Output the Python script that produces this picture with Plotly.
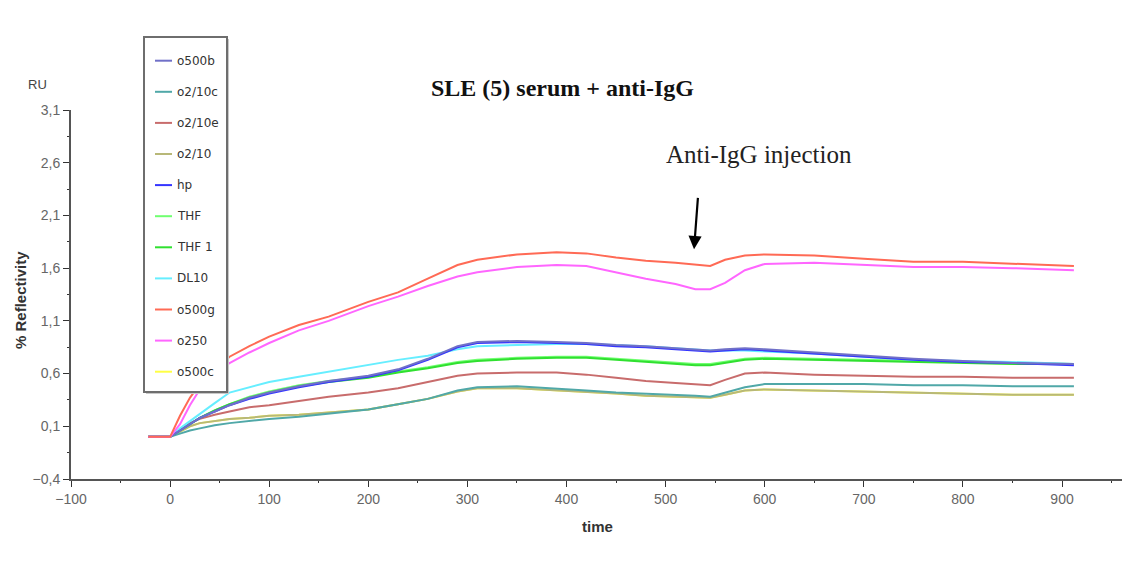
import plotly.graph_objects as go

# ---------------- data ----------------
time = [-22, 0, 10, 20, 30, 45, 60, 80, 100, 130, 160, 200, 230, 260, 290, 310,
        350, 390, 420, 450, 480, 510, 530, 545, 560, 580, 600, 650, 700, 750,
        800, 850, 912]

o500b = [0.0, 0.0, 0.06, 0.12, 0.18, 0.24, 0.30, 0.37, 0.42, 0.48, 0.53, 0.58, 0.64,
         0.74, 0.86, 0.90, 0.91, 0.90, 0.89, 0.87, 0.86, 0.84, 0.83, 0.82, 0.83,
         0.84, 0.83, 0.80, 0.77, 0.74, 0.72, 0.70, 0.69]
o2_10c = [0.0, 0.0, 0.03, 0.06, 0.08, 0.11, 0.13, 0.15, 0.17, 0.19, 0.22, 0.26, 0.31,
          0.36, 0.44, 0.47, 0.48, 0.46, 0.44, 0.42, 0.41, 0.40, 0.39, 0.38, 0.42,
          0.47, 0.50, 0.50, 0.50, 0.49, 0.49, 0.48, 0.48]
o2_10e = [0.0, 0.0, 0.07, 0.13, 0.17, 0.21, 0.24, 0.28, 0.30, 0.34, 0.38, 0.42, 0.46,
          0.52, 0.58, 0.60, 0.61, 0.61, 0.59, 0.56, 0.53, 0.51, 0.50, 0.49, 0.54,
          0.60, 0.61, 0.59, 0.58, 0.57, 0.57, 0.56, 0.56]
o2_10 = [0.0, 0.0, 0.05, 0.10, 0.13, 0.15, 0.17, 0.18, 0.20, 0.21, 0.23, 0.26, 0.31,
         0.36, 0.43, 0.46, 0.46, 0.44, 0.43, 0.41, 0.39, 0.38, 0.38, 0.37, 0.40,
         0.44, 0.45, 0.44, 0.43, 0.42, 0.41, 0.40, 0.40]
hp = [0.0, 0.0, 0.06, 0.12, 0.18, 0.24, 0.30, 0.36, 0.41, 0.47, 0.52, 0.57, 0.63,
      0.73, 0.85, 0.89, 0.90, 0.89, 0.88, 0.86, 0.85, 0.83, 0.82, 0.81, 0.82,
      0.83, 0.82, 0.79, 0.76, 0.73, 0.71, 0.70, 0.68]
THF = [0.0, 0.0, 0.06, 0.12, 0.18, 0.25, 0.31, 0.38, 0.43, 0.49, 0.53, 0.57, 0.62,
       0.66, 0.71, 0.73, 0.75, 0.76, 0.76, 0.74, 0.72, 0.70, 0.69, 0.69, 0.71,
       0.74, 0.75, 0.74, 0.73, 0.72, 0.71, 0.70, 0.69]
THF_1 = [0.0, 0.0, 0.06, 0.12, 0.18, 0.25, 0.31, 0.37, 0.42, 0.48, 0.52, 0.56, 0.61,
         0.65, 0.70, 0.72, 0.74, 0.75, 0.75, 0.73, 0.71, 0.69, 0.68, 0.68, 0.70,
         0.73, 0.74, 0.73, 0.72, 0.71, 0.70, 0.69, 0.69]
DL10 = [0.0, 0.0, 0.08, 0.15, 0.22, 0.32, 0.42, 0.47, 0.52, 0.57, 0.62, 0.68, 0.73,
        0.77, 0.83, 0.86, 0.87, 0.88, 0.88, 0.87, 0.86, 0.84, 0.83, 0.82, 0.82,
        0.82, 0.81, 0.79, 0.76, 0.73, 0.72, 0.71, 0.69]
o500g = [0.0, 0.0, 0.20, 0.37, 0.50, 0.63, 0.76, 0.86, 0.95, 1.06, 1.14, 1.28, 1.37,
         1.50, 1.63, 1.68, 1.73, 1.75, 1.74, 1.70, 1.67, 1.65, 1.63, 1.62, 1.68,
         1.72, 1.73, 1.72, 1.69, 1.66, 1.66, 1.64, 1.62]
o250 = [0.0, 0.0, 0.12, 0.30, 0.45, 0.58, 0.70, 0.80, 0.89, 1.01, 1.10, 1.24, 1.33,
        1.43, 1.52, 1.56, 1.61, 1.63, 1.62, 1.56, 1.50, 1.45, 1.40, 1.40, 1.46,
        1.58, 1.64, 1.65, 1.63, 1.61, 1.61, 1.60, 1.58]
o500c = [0.0, 0.0, 0.05, 0.10, 0.13, 0.15, 0.17, 0.18, 0.20, 0.21, 0.23, 0.26, 0.31,
         0.36, 0.43, 0.46, 0.46, 0.44, 0.43, 0.41, 0.39, 0.38, 0.38, 0.37, 0.40,
         0.44, 0.45, 0.44, 0.43, 0.42, 0.41, 0.40, 0.40]

series_names = ["o500b", "o2/10c", "o2/10e", "o2/10", "hp", "THF", "THF 1",
                "DL10", "o500g", "o250", "o500c"]
series_values = [o500b, o2_10c, o2_10e, o2_10, hp, THF, THF_1, DL10, o500g, o250, o500c]
series_colors = ["#7070c8", "#50a8a8", "#c86c6c", "#b8b878", "#3535ff", "#70ff70",
                 "#30e030", "#66eeff", "#ff6a55", "#ff66ff", "#ffff44"]
draw_order = [10, 3, 1, 2, 5, 6, 7, 4, 0, 9, 8]

y_ticks = [-0.4, 0.1, 0.6, 1.1, 1.6, 2.1, 2.6, 3.1]
x_ticks = [-100, 0, 100, 200, 300, 400, 500, 600, 700, 800, 900]

# ---------------- layout helpers ----------------
# the page body adds an 8 px offset; positions below are screenshot pixels
OFF = 8
W, H = 1130, 585
PW, PH = 1059, 369
L = 71 - OFF
T = 110 - OFF
R = W - L - PW
B = H - T - PH


def px(x):
    return (x - OFF - L) / PW


def py(y):
    return (T + PH - (y - OFF)) / PH


fig = go.Figure()
for i in draw_order:
    fig.add_trace(go.Scatter(
        x=time, y=series_values[i], name=series_names[i], mode="lines",
        line=dict(color=series_colors[i], width=2), showlegend=False))

axis_font = dict(family="Liberation Sans, Arial", size=14, color="#666666")
fig.update_layout(
    width=W, height=H, margin=dict(l=L, r=R, t=T, b=B, autoexpand=False),
    paper_bgcolor="white", plot_bgcolor="white",
    separators=",.",
    xaxis=dict(range=[-100, 968.6], tickvals=x_ticks, showgrid=False, zeroline=False,
               showline=True, linecolor="#555555", linewidth=2,
               ticks="outside", ticklen=6, tickcolor="#333333", tickwidth=1,
               tickfont=axis_font, automargin=False,
               minor=dict(dtick=50, tick0=-100, ticks="outside", ticklen=2,
                          tickcolor="#333333")),
    yaxis=dict(range=[-0.4, 3.1], tickvals=y_ticks, tickformat=".1f",
               showgrid=False, zeroline=False,
               showline=True, linecolor="#555555", linewidth=2,
               ticks="outside", ticklen=6, tickcolor="#333333", tickwidth=1,
               tickfont=axis_font, automargin=False,
               minor=dict(dtick=0.25, tick0=-0.4, ticks="outside", ticklen=2,
                          tickcolor="#333333")),
)

shapes = []
annotations = []

# faint image border on the left
shapes.append(dict(type="line", xref="paper", yref="paper", x0=px(6.5), x1=px(6.5),
                   y0=py(8), y1=py(585), line=dict(color="#eeeeee", width=1),
                   layer="above"))

# legend box (opaque, drawn over the lines)
lx0, lx1, ly0, ly1 = 144, 227, 37, 392
shapes.append(dict(type="rect", xref="paper", yref="paper",
                   x0=px(lx0 + 2), x1=px(lx1 + 2), y0=py(ly1 + 2), y1=py(ly0 + 2),
                   fillcolor="#c8c8c8", line=dict(width=0), layer="above"))
shapes.append(dict(type="rect", xref="paper", yref="paper",
                   x0=px(lx0), x1=px(lx1), y0=py(ly1), y1=py(ly0),
                   fillcolor="white", line=dict(color="#6e6e6e", width=2),
                   layer="above"))
for k, (nm, col) in enumerate(zip(series_names, series_colors)):
    yy = 60.7 + 31.1 * k
    shapes.append(dict(type="line", xref="paper", yref="paper",
                       x0=px(155), x1=px(172), y0=py(yy), y1=py(yy),
                       line=dict(color=col, width=2), layer="above"))
    annotations.append(dict(text=nm, xref="paper", yref="paper", x=px(175), y=py(yy),
                            xanchor="left", yanchor="middle", showarrow=False,
                            font=dict(family="DejaVu Sans", size=12, color="#333333")))

# title
annotations.append(dict(text="<b>SLE (5) serum + anti-IgG</b>", xref="paper", yref="paper",
                        x=px(562), y=py(88), xanchor="center", yanchor="middle",
                        showarrow=False,
                        font=dict(family="Liberation Serif", size=24, color="#111111")))
# injection label
annotations.append(dict(text="Anti-IgG injection", xref="paper", yref="paper",
                        x=px(759), y=py(154), xanchor="center", yanchor="middle",
                        showarrow=False,
                        font=dict(family="Liberation Serif", size=25, color="#222222")))
# arrow
annotations.append(dict(text="", x=528.7, y=1.78, xref="x", yref="y",
                        ax=532.7, ay=2.28, axref="x", ayref="y",
                        showarrow=True, arrowhead=2, arrowsize=1.2, arrowwidth=2.2,
                        arrowcolor="#000000"))
# axis labels
annotations.append(dict(text="RU", xref="paper", yref="paper", x=px(37), y=py(85),
                        xanchor="center", yanchor="middle", showarrow=False,
                        font=dict(family="Liberation Sans, Arial", size=13, color="#444444")))
annotations.append(dict(text="<b>% Reflectivity</b>", xref="paper", yref="paper",
                        x=px(20), y=py(300), xanchor="center", yanchor="middle",
                        textangle=-90, showarrow=False,
                        font=dict(family="Liberation Sans, Arial", size=15, color="#333333")))
annotations.append(dict(text="<b>time</b>", xref="paper", yref="paper",
                        x=px(597), y=py(526), xanchor="center", yanchor="middle",
                        showarrow=False,
                        font=dict(family="Liberation Sans, Arial", size=15, color="#333333")))

fig.update_layout(shapes=shapes, annotations=annotations)
fig.write_html("out.html")
